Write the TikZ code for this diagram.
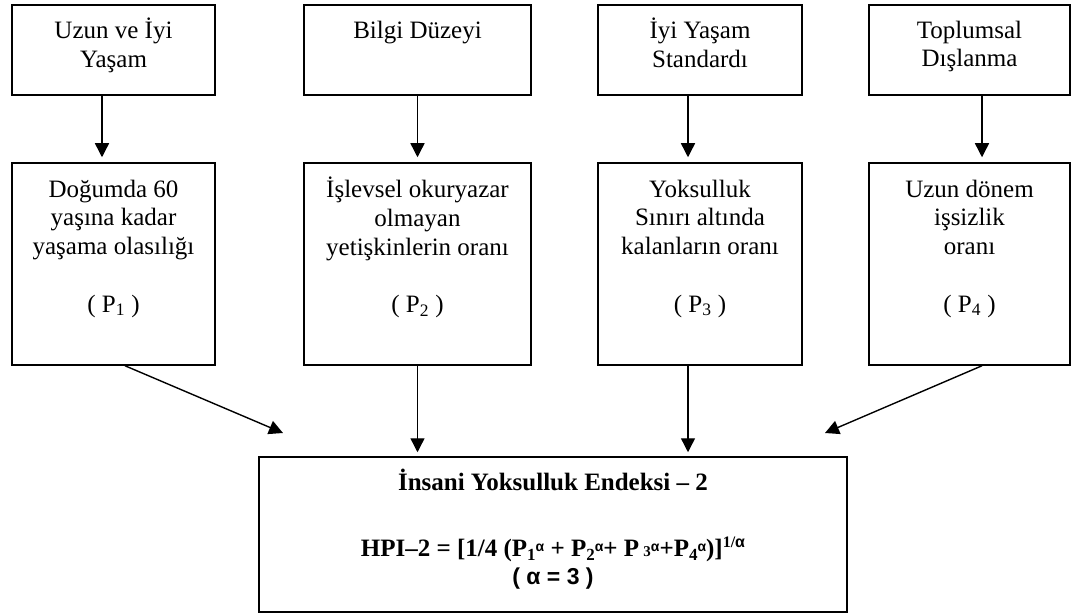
\documentclass[tikz,border=0pt]{standalone}
\usepackage{fontspec}
\setmainfont{Liberation Serif}
\newfontfamily\alphafont{Liberation Sans}
\usetikzlibrary{arrows.meta}

\tikzset{
  box/.style={draw, line width=1.5pt, inner sep=0pt, align=center,
    font=\fontsize{25}{28.7}\selectfont},
  toprow/.style={box, minimum height=90pt},
  midrow/.style={box, minimum height=202pt},
  arr/.style={line width=1.4pt, -{Triangle[length=14pt,width=14pt]}, shorten >=5pt},
}
% text hung from the top of a box
\newcommand{\boxtxt}[3]{\parbox[c][#1][t]{#2}{\centering\strut #3}}
\newcommand{\Pk}[1]{P\raisebox{-4pt}{\fontsize{17}{17}\selectfont #1}\raisebox{5pt}{\alphafont\fontsize{14}{14}\selectfont α}}

\begin{document}
\begin{tikzpicture}[x=1pt, y=-1pt]
\useasboundingbox (0,0) rectangle (1071,615);

%top row
\node[toprow, minimum width=203pt] (t1) at (113.5,50) {\boxtxt{64pt}{195pt}{Uzun ve İyi\\ Yaşam}};
\node[toprow, minimum width=227pt] (t2) at (417.5,50) {\boxtxt{64pt}{219pt}{Bilgi Düzeyi}};
\node[toprow, minimum width=204pt] (t3) at (700,50) {\boxtxt{64pt}{196pt}{İyi Yaşam\\ Standardı}};
\node[toprow, minimum width=201pt] (t4) at (969.5,50) {\boxtxt{64pt}{193pt}{Toplumsal\\ Dışlanma}};

%indicators
\node[midrow, minimum width=203pt] (p1) at (113.5,264) {\boxtxt{174pt}{197pt}{Doğumda 60\\ yaşına kadar\\ yaşama olasılığı\\[29pt] ( P\textsubscript{1} )}};
\node[midrow, minimum width=227pt] (p2) at (417.5,264) {\boxtxt{174pt}{221pt}{İşlevsel okuryazar\\ olmayan\\ yetişkinlerin oranı\\[29pt] ( P\textsubscript{2} )}};
\node[midrow, minimum width=204pt] (p3) at (700,264) {\boxtxt{174pt}{198pt}{Yoksulluk\\ Sınırı altında\\ kalanların oranı\\[29pt] ( P\textsubscript{3} )}};
\node[midrow, minimum width=201pt] (p4) at (969.5,264) {\boxtxt{174pt}{195pt}{Uzun dönem\\ işsizlik\\ oranı\\[29pt] ( P\textsubscript{4} )}};

%index
\node[box, minimum width=588pt, minimum height=155pt] (hpi) at (553,534.5) {\boxtxt{131pt}{580pt}{\bfseries İnsani Yoksulluk Endeksi – 2\\[37pt]
  HPI–2 = [1/4 (\Pk{1} + \Pk{2}+ P\,{\fontsize{15}{15}\selectfont 3}\raisebox{5pt}{\alphafont\fontsize{14}{14}\selectfont α}+\Pk{4})]\raisebox{9pt}{\fontsize{16}{16}\selectfont 1/\alphafont α}\\
  {\alphafont\fontsize{23}{28.7}\selectfont ( α = 3 )}}};

\coordinate (e1) at (283,433);
\coordinate (e4) at (825,433);

\draw[arr] ([xshift=-11.5pt]t1.south) -- ([xshift=-11.5pt]p1.north);
\draw[arr] (t2.south) -- (p2.north);
\draw[arr] ([xshift=-12pt]t3.south) -- ([xshift=-12pt]p3.north);
\draw[arr] ([xshift=12.5pt]t4.south) -- ([xshift=12.5pt]p4.north);

\draw[arr, shorten >=0pt] ([xshift=11.5pt]p1.south) -- (e1);
\draw[arr, shorten >=4pt] (p2.south) -- (p2.south |- hpi.north);
\draw[arr, shorten >=4pt] ([xshift=-12pt]p3.south) -- ([xshift=-12pt]p3.south |- hpi.north);
\draw[arr, shorten >=0pt] ([xshift=12.5pt]p4.south) -- (e4);
\end{tikzpicture}
\end{document}
